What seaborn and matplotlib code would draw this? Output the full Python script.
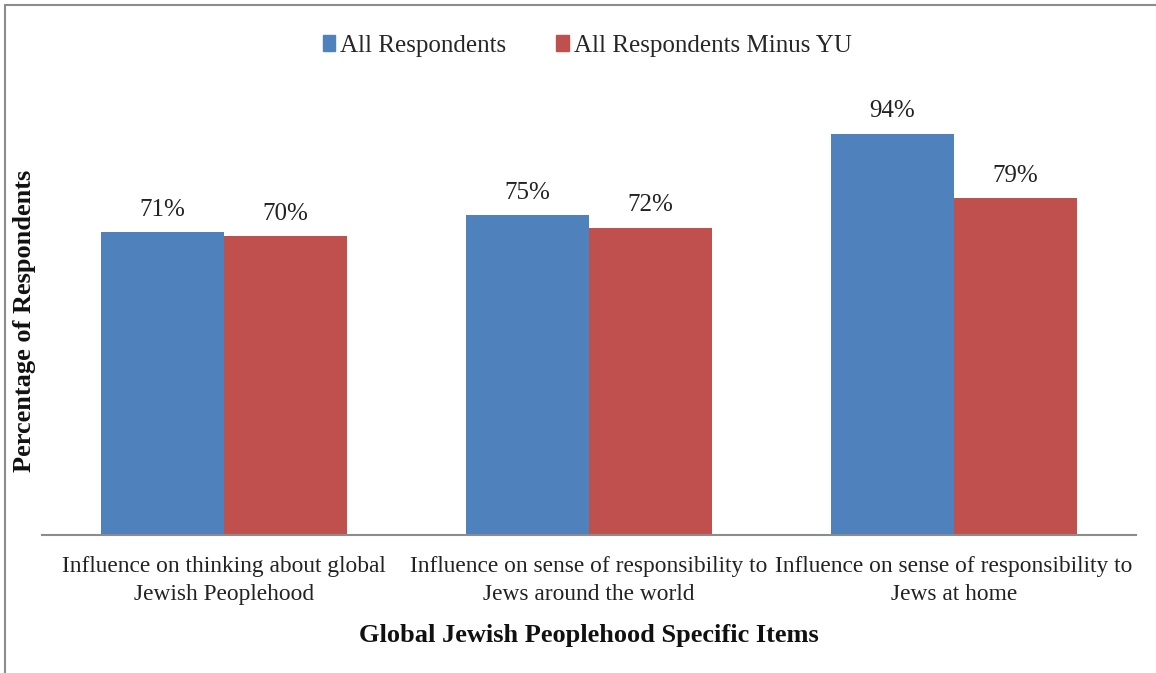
import pandas as pd
import matplotlib
matplotlib.use("Agg")
import matplotlib.pyplot as plt
import matplotlib.patches as patches
import seaborn as sns

# Chart data
items = [
    "Influence on thinking about global\nJewish Peoplehood",
    "Influence on sense of responsibility to\nJews around the world",
    "Influence on sense of responsibility to\nJews at home",
]
groups = ["All Respondents", "All Respondents Minus YU"]
all_resp = [71, 75, 94]
minus_yu = [70, 72, 79]
colors = ["#4F81BD", "#C0504D"]

df = pd.DataFrame({
    "item": items * 2,
    "group": [groups[0]] * 3 + [groups[1]] * 3,
    "pct": all_resp + minus_yu,
})

sns.set_theme(style="white")
plt.rcParams["font.family"] = ["Liberation Serif", "DejaVu Serif"]

fig = plt.figure(figsize=(11.56, 6.73), dpi=100)
ax = fig.add_axes([0.0359, 0.2051, 0.9472, 0.6345])

sns.barplot(data=df, x="item", y="pct", hue="group", palette=colors,
            width=0.674, saturation=1, gap=0, linewidth=0, ax=ax, legend=False)

ax.set_ylim(0, 100)
ax.set_xlim(-0.5, 2.5)
for cont, vals in zip(ax.containers, [all_resp, minus_yu]):
    ax.bar_label(cont, labels=[f"{v}%" for v in vals], padding=8,
                 fontsize=18, color="#222222")

# axes styling
for side in ["top", "right", "left"]:
    ax.spines[side].set_visible(False)
ax.spines["bottom"].set_color("#8c8c8c")
ax.spines["bottom"].set_linewidth(1.5)
ax.set_yticks([])
ax.tick_params(axis="x", length=0, labelsize=16.8, pad=15, colors="#222222")
for lbl in ax.get_xticklabels():
    lbl.set_linespacing(1.45)
ax.set_ylabel("")
ax.set_xlabel("Global Jewish Peoplehood Specific Items", fontsize=19,
              fontweight="bold", labelpad=14, color="#111111")

fig.text(25 / 1156, 0.5225, "Percentage of Respondents", rotation=90,
         ha="center", va="center", fontsize=19, fontweight="bold",
         color="#111111")

# legend
handles = [patches.Patch(color=c) for c in colors]
fig.legend(handles, groups, loc="center", bbox_to_anchor=(0.508, 0.932),
           ncol=2, frameon=False, fontsize=18, handlelength=0.5,
           handleheight=0.65, handletextpad=0.2, columnspacing=2.0)

# outer chart frame
frame = patches.Rectangle((0.0043, -0.02), 1.1, 1.0126, transform=fig.transFigure,
                          fill=False, edgecolor="#8c8c8c", linewidth=1.5)
fig.patches.append(frame)

fig.savefig("out.png", dpi=100)
